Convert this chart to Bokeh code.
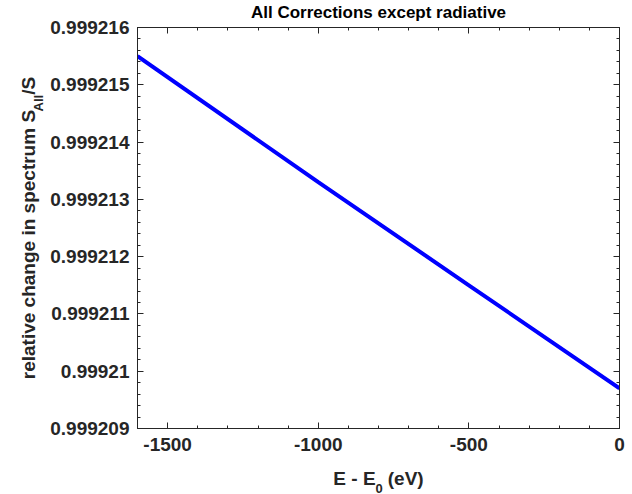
import math
from bokeh.plotting import figure
from bokeh.models import (Range1d, LinearAxis, FixedTicker, CustomJSTickFormatter, Label)
from bokeh.embed import file_html
from bokeh.resources import INLINE

# data
energy = [-1600, -1000, -500, 0]
ratio = [0.9992155, 0.9992133, 0.9992115, 0.9992097]
x_ticks = [-1500, -1000, -500, 0]
x_tick_labels = ["-1500", "-1000", "-500", "0"]
y_ticks = [0.999209, 0.999210, 0.999211, 0.999212, 0.999213, 0.999214, 0.999215, 0.999216]
y_tick_labels = ["0.999209", "0.99921", "0.999211", "0.999212", "0.999213", "0.999214", "0.999215", "0.999216"]
title_text = "All Corrections except radiative"
x_title_main = "E - E"
x_title_sub = "0"
x_title_end = "(eV)"
y_title_main = "relative change in spectrum S"
y_title_sub = "All"
y_title_end = "/S"

X0, X1 = -1600, 0
Y0, Y1 = 0.999209, 0.999216
W, H = 632, 494
L, R, T, B = 133, 619, 27, 428

def X(px):
    return X0 + (px - L) / (R - L) * (X1 - X0)

def Y(py):
    return Y1 - (py - T) / (B - T) * (Y1 - Y0)

FONT = "Liberation Sans"
GREY = "#262626"

p = figure(width=W, height=H, output_backend="svg", toolbar_location=None,
           x_range=Range1d(X0, X1), y_range=Range1d(Y0, Y1),
           min_border_left=L, min_border_right=W - R, min_border_top=T, min_border_bottom=H - B)
p.background_fill_color = "white"
p.border_fill_color = "white"
p.outline_line_color = GREY
p.outline_line_width = 1
p.xgrid.visible = False
p.ygrid.visible = False

p.line(energy, ratio, line_color="#0000ff", line_width=4)

def style(ax, ticks, labels, minor, show):
    ax.ticker = FixedTicker(ticks=ticks, minor_ticks=minor)
    ax.axis_line_color = GREY
    ax.major_tick_line_color = GREY
    ax.minor_tick_line_color = GREY
    ax.major_tick_in = 6
    ax.major_tick_out = 0
    ax.minor_tick_in = 3
    ax.minor_tick_out = 0
    ax.axis_label_text_font = FONT
    ax.axis_label_text_font_style = "bold"
    ax.axis_label_text_font_size = "19px"
    ax.axis_label_text_color = GREY
    if show:
        ax.major_label_overrides = {t: s for t, s in zip(ticks, labels)}
        ax.major_label_text_font = FONT
        ax.major_label_text_font_style = "bold"
        ax.major_label_text_font_size = "19px"
        ax.major_label_text_color = GREY
    else:
        ax.formatter = CustomJSTickFormatter(code="return ''")
        ax.major_label_standoff = 0

x_minor = list(range(-1600, 1, 100))
y_minor = [Y0 + i * 0.2e-6 for i in range(36)]

xa = p.xaxis[0]
ya = p.yaxis[0]
style(xa, x_ticks, x_tick_labels, x_minor, True)
style(ya, y_ticks, y_tick_labels, y_minor, True)
xa.major_label_standoff = 9
ya.major_label_standoff = 8
# gaps in the titles leave room for the subscripts drawn as their own labels
xa.axis_label = x_title_main + "\u00a0\u00a0\u200a" + x_title_end
xa.axis_label_standoff = 14
ya.axis_label = y_title_main + "\u2009\u2009\u2009\u2009" + y_title_end
ya.axis_label_standoff = 8

ax_top = LinearAxis()
ax_right = LinearAxis()
style(ax_top, x_ticks, x_tick_labels, x_minor, False)
style(ax_right, y_ticks, y_tick_labels, y_minor, False)
p.add_layout(ax_top, "above")
p.add_layout(ax_right, "right")

# title
p.add_layout(Label(x=X(376), y=Y(12), text=title_text, text_font=FONT, text_font_style="bold",
                   text_font_size="17px", text_align="center", text_baseline="alphabetic",
                   text_color="black"), "above")

# subscripts
p.add_layout(Label(x=X(33), y=Y(111), text=y_title_sub, text_font=FONT, text_font_style="bold",
                   text_font_size="13px", text_align="left", text_baseline="alphabetic",
                   text_color=GREY, angle=math.pi / 2), "left")
p.add_layout(Label(x=X(373), y=Y(488), text=x_title_sub, text_font=FONT, text_font_style="bold",
                   text_font_size="13px", text_align="left", text_baseline="alphabetic",
                   text_color=GREY), "right")

open("out.html", "w").write(file_html(p, INLINE))
